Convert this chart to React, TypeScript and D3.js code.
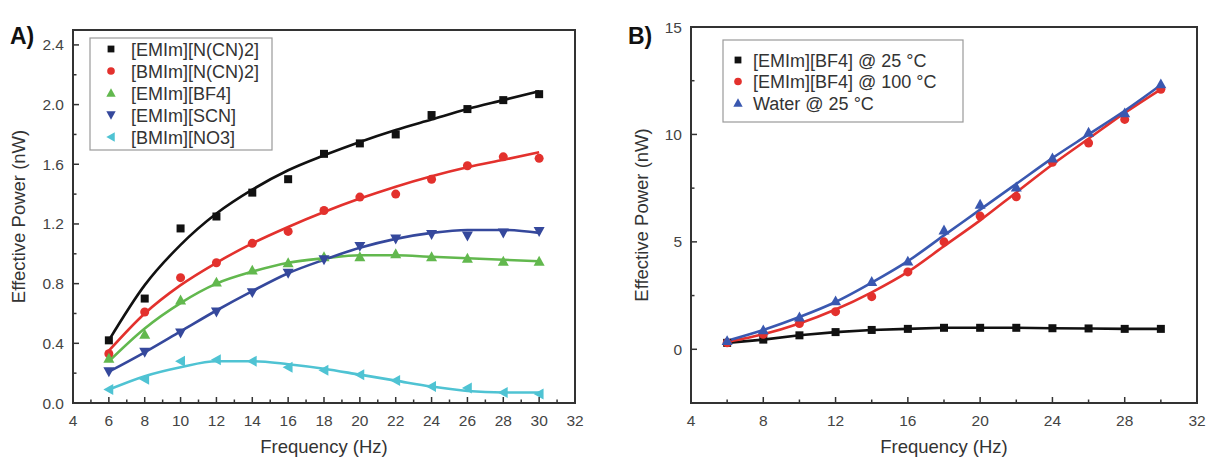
import React from "react";
import * as d3 from "d3";

const freq = [6, 8, 10, 12, 14, 16, 18, 20, 22, 24, 26, 28, 30];

// Panel A data (points and fitted curves)
const aEMImNCN2 = [0.42, 0.70, 1.17, 1.25, 1.41, 1.50, 1.67, 1.74, 1.80, 1.93, 1.97, 2.03, 2.07];
const aEMImNCN2Fit = [0.42, 0.79, 1.06, 1.27, 1.43, 1.56, 1.66, 1.75, 1.83, 1.90, 1.97, 2.03, 2.09];
const aBMImNCN2 = [0.33, 0.61, 0.84, 0.94, 1.07, 1.15, 1.29, 1.38, 1.40, 1.50, 1.59, 1.65, 1.64];
const aBMImNCN2Fit = [0.35, 0.60, 0.79, 0.94, 1.07, 1.18, 1.28, 1.37, 1.45, 1.52, 1.58, 1.63, 1.68];
const aEMImBF4 = [0.30, 0.46, 0.69, 0.81, 0.89, 0.94, 0.98, 0.98, 1.00, 0.98, 0.97, 0.95, 0.95];
const aEMImBF4Fit = [0.28, 0.50, 0.67, 0.80, 0.88, 0.94, 0.97, 0.99, 0.99, 0.98, 0.97, 0.96, 0.95];
const aEMImSCN = [0.21, 0.34, 0.47, 0.61, 0.74, 0.87, 0.96, 1.05, 1.10, 1.13, 1.12, 1.14, 1.15];
const aEMImSCNFit = [0.21, 0.34, 0.48, 0.62, 0.75, 0.87, 0.96, 1.04, 1.10, 1.14, 1.16, 1.16, 1.14];
const aBMImNO3 = [0.09, 0.16, 0.28, 0.29, 0.28, 0.24, 0.22, 0.19, 0.15, 0.11, 0.10, 0.07, 0.06];
const aBMImNO3Fit = [0.09, 0.18, 0.24, 0.28, 0.28, 0.26, 0.23, 0.19, 0.15, 0.11, 0.08, 0.07, 0.07];

// Panel B data
const bBF4_25 = [0.30, 0.45, 0.65, 0.80, 0.90, 0.95, 1.00, 1.00, 1.00, 0.98, 0.97, 0.95, 0.95];
const bBF4_100 = [0.30, 0.70, 1.20, 1.75, 2.45, 3.60, 5.00, 6.20, 7.10, 8.70, 9.60, 10.70, 12.10];
const bBF4_100Fit = [0.35, 0.70, 1.20, 1.85, 2.65, 3.60, 4.80, 6.00, 7.30, 8.60, 9.80, 11.00, 12.10];
const bWater25 = [0.40, 0.90, 1.50, 2.25, 3.15, 4.10, 5.55, 6.75, 7.55, 8.90, 10.10, 11.00, 12.35];
const bWater25Fit = [0.40, 0.90, 1.50, 2.20, 3.10, 4.10, 5.30, 6.50, 7.70, 8.90, 10.00, 11.10, 12.30];

const xTicksA = [4, 6, 8, 10, 12, 14, 16, 18, 20, 22, 24, 26, 28, 30, 32];
const yTicksA = [0.0, 0.4, 0.8, 1.2, 1.6, 2.0, 2.4];
const xTicksB = [4, 8, 12, 16, 20, 24, 28, 32];
const yTicksB = [0, 5, 10, 15];

const FONT = "'Liberation Sans', Arial, sans-serif";
const BLACK = "#111111";
const RED = "#e3312d";
const GREEN = "#62b84e";
const BLUE = "#35489c";
const CYAN = "#4fc3d3";

type Series = { name: string; color: string; marker: string; values: number[]; fit: number[] | null; curve: any };

function Marker({ type, x, y, color, s = 1 }: { type: string; x: number; y: number; color: string; s?: number }) {
  if (type === "square") return <rect x={x - 4 * s} y={y - 4 * s} width={8 * s} height={8 * s} fill={color} />;
  if (type === "circle") return <circle cx={x} cy={y} r={4.5 * s} fill={color} />;
  const r = 5.5 * s;
  let pts: [number, number][] = [];
  if (type === "up") pts = [[x, y - r], [x + r, y + r * 0.8], [x - r, y + r * 0.8]];
  if (type === "down") pts = [[x, y + r], [x + r, y - r * 0.8], [x - r, y - r * 0.8]];
  if (type === "left") pts = [[x - r, y], [x + r * 0.8, y - r], [x + r * 0.8, y + r]];
  return <polygon points={pts.map((p) => p.join(",")).join(" ")} fill={color} />;
}

function Panel(props: {
  left: number; right: number; top: number; bottom: number;
  xDomain: [number, number]; yDomain: [number, number];
  xTicks: number[]; xMinor: number[]; yTicks: number[]; yMinor: number[];
  yFmt: (v: number) => string; series: Series[];
  label: string; labelX: number; titleX: number;
  legend: { x: number; y: number; w: number; h: number; rowH: number; first: number; mx: number; tx: number };
}) {
  const { left, right, top, bottom } = props;
  const x = d3.scaleLinear().domain(props.xDomain).range([left, right]);
  const y = d3.scaleLinear().domain(props.yDomain).range([bottom, top]);
  const tickColor = "#333";
  const lg = props.legend;
  return (
    <g>
      {props.series.map((s) => {
        const data = freq.map((f, i) => [f, s.fit ? s.fit[i] : s.values[i]] as [number, number]);
        const line = d3.line<[number, number]>().x((d) => x(d[0])).y((d) => y(d[1])).curve(s.curve);
        return <path key={s.name + "l"} d={line(data) || ""} fill="none" stroke={s.color} strokeWidth={2.6} />;
      })}
      {props.series.map((s) =>
        s.values.map((v, i) => <Marker key={s.name + i} type={s.marker} x={x(freq[i])} y={y(v)} color={s.color} />)
      )}
      <rect x={left} y={top} width={right - left} height={bottom - top} fill="none" stroke="#333" strokeWidth={2} />
      {props.xTicks.map((t) => (
        <g key={"xt" + t}>
          <line x1={x(t)} x2={x(t)} y1={bottom} y2={bottom - 6} stroke={tickColor} strokeWidth={1.5} />
          <text x={x(t)} y={bottom + 23} textAnchor="middle" fontSize={15.5} fill="#444" fontFamily={FONT}>{t}</text>
        </g>
      ))}
      {props.xMinor.map((t) => (
        <line key={"xm" + t} x1={x(t)} x2={x(t)} y1={bottom} y2={bottom - 3.5} stroke={tickColor} strokeWidth={1.5} />
      ))}
      {props.yTicks.map((t) => (
        <g key={"yt" + t}>
          <line x1={left} x2={left + 6} y1={y(t)} y2={y(t)} stroke={tickColor} strokeWidth={1.5} />
          <text x={left - 9} y={y(t) + 5.5} textAnchor="end" fontSize={15.5} fill="#444" fontFamily={FONT}>{props.yFmt(t)}</text>
        </g>
      ))}
      {props.yMinor.map((t) => (
        <line key={"ym" + t} x1={left} x2={left + 3.5} y1={y(t)} y2={y(t)} stroke={tickColor} strokeWidth={1.5} />
      ))}
      <text x={props.titleX} y={(top + bottom) / 2} transform={`rotate(-90 ${props.titleX} ${(top + bottom) / 2})`}
        textAnchor="middle" fontSize={18.5} fill="#333" fontFamily={FONT}>Effective Power (nW)</text>
      <text x={(left + right) / 2} y={453} textAnchor="middle" fontSize={18.5} fill="#333" fontFamily={FONT}>Frequency (Hz)</text>
      <text x={props.labelX} y={44} fontSize={23} fontWeight="bold" fill="#111" fontFamily={FONT}>{props.label}</text>
      <g>
        <rect x={lg.x} y={lg.y} width={lg.w} height={lg.h} fill="white" stroke="#9a9a9a" strokeWidth={1.2} />
        {props.series.map((s, i) => {
          const cy = lg.y + lg.first + i * lg.rowH;
          return (
            <g key={"lg" + s.name}>
              <Marker type={s.marker} x={lg.x + lg.mx} y={cy} color={s.color} s={0.85} />
              <text x={lg.x + lg.tx} y={cy + 6.5} fontSize={18} fill="#333" fontFamily={FONT}>{s.name}</text>
            </g>
          );
        })}
      </g>
    </g>
  );
}

export default function App() {
  const seriesA: Series[] = [
    { name: "[EMIm][N(CN)2]", color: BLACK, marker: "square", values: aEMImNCN2, fit: aEMImNCN2Fit, curve: d3.curveMonotoneX },
    { name: "[BMIm][N(CN)2]", color: RED, marker: "circle", values: aBMImNCN2, fit: aBMImNCN2Fit, curve: d3.curveMonotoneX },
    { name: "[EMIm][BF4]", color: GREEN, marker: "up", values: aEMImBF4, fit: aEMImBF4Fit, curve: d3.curveMonotoneX },
    { name: "[EMIm][SCN]", color: BLUE, marker: "down", values: aEMImSCN, fit: aEMImSCNFit, curve: d3.curveMonotoneX },
    { name: "[BMIm][NO3]", color: CYAN, marker: "left", values: aBMImNO3, fit: aBMImNO3Fit, curve: d3.curveMonotoneX },
  ];
  const seriesB: Series[] = [
    { name: "[EMIm][BF4] @ 25 °C", color: BLACK, marker: "square", values: bBF4_25, fit: null, curve: d3.curveLinear },
    { name: "[EMIm][BF4] @ 100 °C", color: RED, marker: "circle", values: bBF4_100, fit: bBF4_100Fit, curve: d3.curveMonotoneX },
    { name: "Water @ 25 °C", color: "#3a58b0", marker: "up", values: bWater25, fit: bWater25Fit, curve: d3.curveMonotoneX },
  ];
  const xMinorA = d3.range(5, 32, 2);
  const yMinorA = [0.2, 0.6, 1.0, 1.4, 1.8, 2.2];
  const xMinorB = d3.range(6, 32, 4);
  const yMinorB = [-2.5, 2.5, 7.5, 12.5];
  return (
    <svg width={1209} height={458} style={{ position: "absolute", left: 0, top: 0, background: "white" }}>
      <Panel left={73} right={575} top={30} bottom={403} xDomain={[4, 32]} yDomain={[0, 2.5]}
        xTicks={xTicksA} xMinor={xMinorA} yTicks={yTicksA} yMinor={yMinorA} yFmt={(v) => v.toFixed(1)}
        series={seriesA} label="A)" labelX={10} titleX={25}
        legend={{ x: 90, y: 38, w: 182, h: 112, rowH: 22, first: 11, mx: 21, tx: 41 }} />
      <Panel left={691} right={1197} top={27} bottom={403} xDomain={[4, 32]} yDomain={[-2.5, 15]}
        xTicks={xTicksB} xMinor={xMinorB} yTicks={yTicksB} yMinor={yMinorB} yFmt={(v) => String(v)}
        series={seriesB} label="B)" labelX={628} titleX={648}
        legend={{ x: 723, y: 40, w: 240, h: 82, rowH: 21.5, first: 20, mx: 15, tx: 30 }} />
    </svg>
  );
}
